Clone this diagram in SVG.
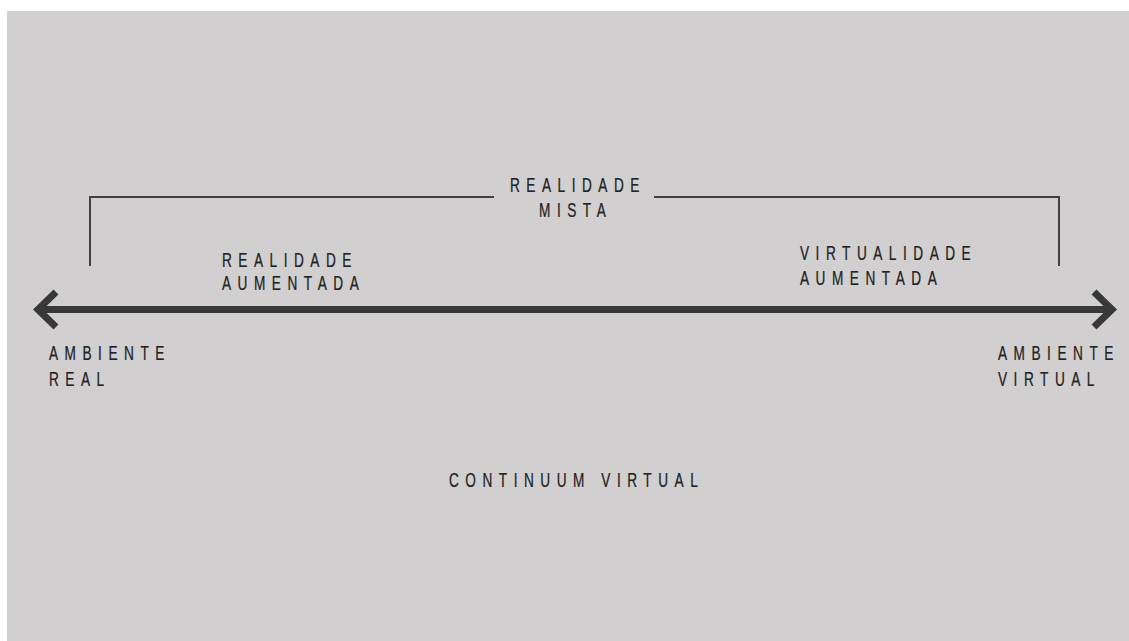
<svg xmlns="http://www.w3.org/2000/svg" width="1129" height="641" viewBox="0 0 1129 641">
  <style>
    .t { font-family: "Liberation Sans", Arial, sans-serif; font-size: 19.5px; fill: #222222; letter-spacing: 9.3px; stroke: #222222; stroke-width: 0.25; }
    .thin { fill: none; stroke: #404040; stroke-width: 2; }
    .thick { fill: none; stroke: #383838; stroke-width: 7; stroke-linejoin: miter; stroke-miterlimit: 10; }
  </style>
  <rect x="0" y="0" width="1129" height="641" fill="#ffffff"/>
  <rect x="7" y="11" width="1122" height="630" fill="#d1cfcf"/>
  <g id="connectors">
    <polyline class="thin" points="90,266 90,197 494,197"/>
    <polyline class="thin" points="654,197 1059,197 1059,266"/>
    <line class="thick" x1="40" y1="309.5" x2="1110" y2="309.5"/>
    <polyline class="thick" points="56,292 38,309.5 56,327"/>
    <polyline class="thick" points="1094,292 1112,309.5 1094,327"/>
  </g>
  <g id="realidade-mista">
    <text class="t" transform="translate(510,192) scale(0.7,1)">REALIDADE</text>
    <text class="t" transform="translate(539,217) scale(0.7,1)">MISTA</text>
  </g>
  <g id="realidade-aumentada">
    <text class="t" transform="translate(222,267) scale(0.7,1)">REALIDADE</text>
    <text class="t" transform="translate(222,290) scale(0.7,1)">AUMENTADA</text>
  </g>
  <g id="virtualidade-aumentada">
    <text class="t" transform="translate(800,260) scale(0.7,1)">VIRTUALIDADE</text>
    <text class="t" transform="translate(800,285) scale(0.7,1)">AUMENTADA</text>
  </g>
  <g id="ambiente-real">
    <text class="t" transform="translate(49,360) scale(0.7,1)">AMBIENTE</text>
    <text class="t" transform="translate(49,386) scale(0.7,1)">REAL</text>
  </g>
  <g id="ambiente-virtual">
    <text class="t" transform="translate(998,360) scale(0.7,1)">AMBIENTE</text>
    <text class="t" transform="translate(998,386) scale(0.7,1)">VIRTUAL</text>
  </g>
  <g id="continuum-virtual">
    <text class="t" transform="translate(449,487) scale(0.7,1)">CONTINUUM VIRTUAL</text>
  </g>
</svg>
